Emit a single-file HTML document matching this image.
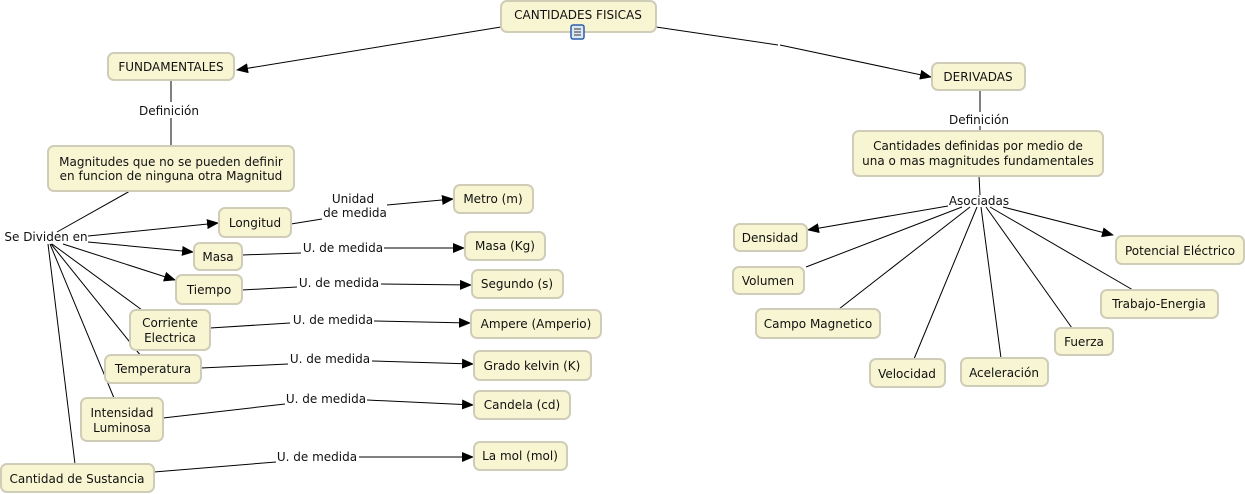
<!DOCTYPE html>
<html><head><meta charset="utf-8"><style>
html,body{margin:0;padding:0;background:#fff;}
svg{display:block;font-family:"DejaVu Sans","Liberation Sans",sans-serif;font-size:12px;}
rect.n{fill:#f8f6d2;stroke:#cfcdb8;stroke-width:2;}
line,polyline{stroke:#000;stroke-width:1;fill:none;}
text{fill:#111;text-anchor:middle;}
</style></head><body>
<svg width="1245" height="494" viewBox="0 0 1245 494" xmlns="http://www.w3.org/2000/svg">
<defs><marker id="a" markerWidth="12" markerHeight="10" refX="11" refY="5" orient="auto" markerUnits="userSpaceOnUse"><path d="M0,0 L12,5 L0,10 z" fill="#000"/></marker></defs>
<!-- connectors -->
<line x1="501" y1="27" x2="237" y2="70" marker-end="url(#a)"/>
<line x1="656" y1="27" x2="778" y2="45"/>
<line x1="780" y1="45" x2="931" y2="77" marker-end="url(#a)"/>
<line x1="171" y1="80" x2="171" y2="102"/><line x1="171" y1="118" x2="171" y2="146"/>
<line x1="130" y1="191" x2="57" y2="232"/>
<line x1="88" y1="236" x2="218" y2="223" marker-end="url(#a)"/>
<line x1="88" y1="242" x2="193" y2="252" marker-end="url(#a)"/>
<line x1="63" y1="244" x2="175" y2="280" marker-end="url(#a)"/>
<line x1="52" y1="244" x2="142" y2="310"/>
<line x1="51" y1="244" x2="141" y2="356"/>
<line x1="50" y1="244" x2="114" y2="398"/>
<line x1="48" y1="244" x2="75" y2="464"/>
<line x1="291" y1="224" x2="322" y2="219"/><line x1="387" y1="205" x2="453" y2="199" marker-end="url(#a)"/>
<line x1="242" y1="255" x2="301" y2="253"/><line x1="384" y1="248" x2="464" y2="248" marker-end="url(#a)"/>
<line x1="242" y1="290" x2="297" y2="287"/><line x1="381" y1="284" x2="471" y2="285" marker-end="url(#a)"/>
<line x1="210" y1="328" x2="290" y2="323"/><line x1="374" y1="321" x2="470" y2="323" marker-end="url(#a)"/>
<line x1="201" y1="368" x2="288" y2="364"/><line x1="372" y1="361" x2="473" y2="364" marker-end="url(#a)"/>
<line x1="163" y1="418" x2="285" y2="404"/><line x1="367" y1="400" x2="473" y2="405" marker-end="url(#a)"/>
<line x1="154" y1="472" x2="276" y2="462"/><line x1="359" y1="457" x2="473" y2="457" marker-end="url(#a)"/>
<line x1="980" y1="90" x2="980" y2="112"/><line x1="980" y1="126" x2="980" y2="131"/>
<line x1="979" y1="176" x2="980" y2="195"/>
<line x1="948" y1="206" x2="808" y2="230" marker-end="url(#a)"/>
<line x1="962" y1="207" x2="806" y2="267"/>
<line x1="970" y1="207" x2="839" y2="309"/>
<line x1="977" y1="207" x2="914" y2="359"/>
<line x1="981" y1="207" x2="1001" y2="358"/>
<line x1="986" y1="207" x2="1072" y2="328"/>
<line x1="990" y1="207" x2="1133" y2="290"/>
<line x1="1003" y1="207" x2="1113" y2="235" marker-end="url(#a)"/>
<!-- nodes -->
<g>
<rect class="n" x="501" y="1" width="155" height="31" rx="6"/><text x="578" y="19">CANTIDADES FISICAS</text>
<rect x="571" y="25" width="13" height="14" fill="#dde8f5" stroke="#2a5ea8" stroke-width="1.5" rx="2"/><path d="M574,29h7M574,32h7M574,35h7" stroke="#333" stroke-width="1"/>
<rect class="n" x="108" y="53" width="126" height="27" rx="6"/><text x="171" y="71">FUNDAMENTALES</text>
<rect class="n" x="48" y="146" width="246" height="45" rx="6"/><text x="171" y="166">Magnitudes que no se pueden definir</text><text x="171" y="180">en funcion de ninguna otra Magnitud</text>
<rect class="n" x="219" y="208" width="72" height="29" rx="6"/><text x="255" y="227">Longitud</text>
<rect class="n" x="194" y="243" width="48" height="27" rx="6"/><text x="218" y="261">Masa</text>
<rect class="n" x="176" y="275" width="66" height="29" rx="6"/><text x="209" y="294">Tiempo</text>
<rect class="n" x="130" y="310" width="80" height="40" rx="6"/><text x="170" y="327">Corriente</text><text x="170" y="342">Electrica</text>
<rect class="n" x="105" y="355" width="96" height="28" rx="6"/><text x="153" y="373">Temperatura</text>
<rect class="n" x="81" y="398" width="82" height="43" rx="6"/><text x="122" y="417">Intensidad</text><text x="122" y="432">Luminosa</text>
<rect class="n" x="1" y="464" width="153" height="28" rx="6"/><text x="77" y="483">Cantidad de Sustancia</text>
<rect class="n" x="454" y="185" width="79" height="28" rx="6"/><text x="493" y="203">Metro (m)</text>
<rect class="n" x="465" y="232" width="80" height="28" rx="6"/><text x="505" y="250">Masa (Kg)</text>
<rect class="n" x="472" y="270" width="91" height="28" rx="6"/><text x="517" y="288">Segundo (s)</text>
<rect class="n" x="471" y="310" width="130" height="28" rx="6"/><text x="536" y="328">Ampere (Amperio)</text>
<rect class="n" x="474" y="351" width="117" height="29" rx="6"/><text x="532" y="370">Grado kelvin (K)</text>
<rect class="n" x="474" y="391" width="96" height="28" rx="6"/><text x="522" y="409">Candela (cd)</text>
<rect class="n" x="474" y="442" width="93" height="28" rx="6"/><text x="520" y="460">La mol (mol)</text>
<rect class="n" x="932" y="63" width="93" height="27" rx="6"/><text x="978" y="81">DERIVADAS</text>
<rect class="n" x="853" y="131" width="250" height="45" rx="6"/><text x="978" y="150">Cantidades definidas por medio de</text><text x="978" y="165">una o mas magnitudes fundamentales</text>
<rect class="n" x="734" y="224" width="73" height="27" rx="6"/><text x="770" y="242">Densidad</text>
<rect class="n" x="733" y="267" width="71" height="27" rx="6"/><text x="768" y="285">Volumen</text>
<rect class="n" x="756" y="309" width="124" height="29" rx="6"/><text x="818" y="328">Campo Magnetico</text>
<rect class="n" x="870" y="359" width="75" height="28" rx="6"/><text x="907" y="378">Velocidad</text>
<rect class="n" x="961" y="358" width="87" height="28" rx="6"/><text x="1004" y="377">Aceleración</text>
<rect class="n" x="1055" y="328" width="58" height="27" rx="6"/><text x="1084" y="346">Fuerza</text>
<rect class="n" x="1101" y="290" width="117" height="28" rx="6"/><text x="1159" y="308">Trabajo-Energia</text>
<rect class="n" x="1116" y="236" width="128" height="28" rx="6"/><text x="1180" y="255">Potencial Eléctrico</text>
</g>
<!-- labels -->
<text x="169" y="115">Definición</text>
<text x="46" y="241">Se Dividen en</text>
<text x="353" y="203">Unidad</text><text x="355" y="217">de medida</text>
<text x="343" y="252">U. de medida</text>
<text x="339" y="287">U. de medida</text>
<text x="333" y="324">U. de medida</text>
<text x="330" y="363">U. de medida</text>
<text x="326" y="403">U. de medida</text>
<text x="317" y="461">U. de medida</text>
<text x="979" y="124">Definición</text>
<text x="979" y="205">Asociadas</text>
</svg>
</body></html>
